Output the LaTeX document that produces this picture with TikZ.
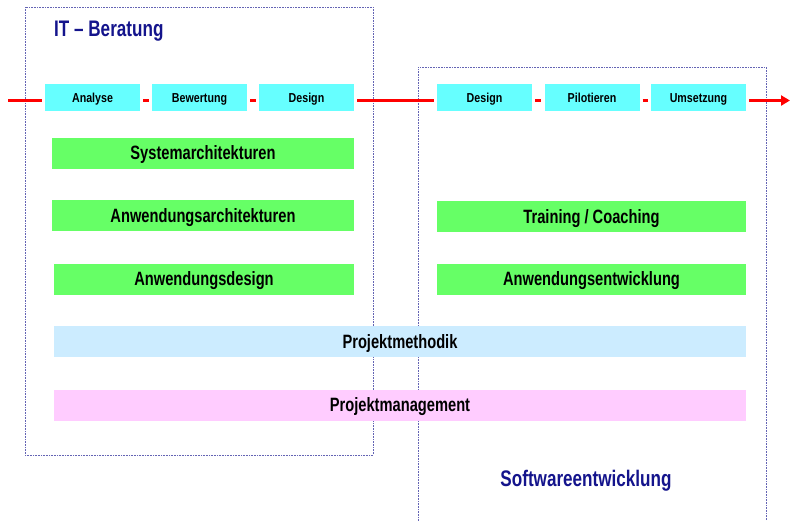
\documentclass[tikz,border=0pt]{standalone}
\usepackage{fontspec}
\setmainfont{Liberation Sans}[FakeStretch=0.82]
\newfontfamily\narrowsans{Liberation Sans}[FakeStretch=0.76]
\usetikzlibrary{arrows.meta}
\definecolor{cyanbox}{RGB}{102,255,255}
\definecolor{greenbox}{RGB}{102,255,102}
\definecolor{bluebox}{RGB}{204,236,255}
\definecolor{pinkbox}{RGB}{255,204,255}
\definecolor{frame}{RGB}{100,100,180}
\definecolor{titleblue}{RGB}{20,20,140}
\tikzset{
  stepbox/.style={fill=cyanbox, draw=none, minimum height=27pt, inner sep=0pt, text height=9.3pt, text depth=0pt, font=\bfseries\fontsize{13}{15}\selectfont},
  bar/.style={draw=none, minimum height=31pt, inner sep=0pt, text height=13.8pt, text depth=0pt, font=\narrowsans\bfseries\fontsize{19.3}{21}\selectfont},
  flow/.style={draw=red, line width=3pt, shorten <=3pt, shorten >=3pt},
  region/.style={draw=frame, line width=1pt, dash pattern=on 0.8pt off 0.8pt},
  heading/.style={text=titleblue, font=\narrowsans\bfseries\fontsize{22.5}{24}\selectfont, inner sep=0pt}
}
\begin{document}
\begin{tikzpicture}[x=1pt,y=-1pt]
\useasboundingbox (0,0) rectangle (791,520);
% frames
\draw[region] (25,7) rectangle (373,455);
\draw[region] (766,525) -- (766,67) -- (418,67) -- (418,525);
% headings
\node[heading, anchor=west] (itb) at (54,31) {IT – Beratung};
\node[heading] (swe) at (586,481) {Softwareentwicklung};
% step boxes
\node[stepbox, minimum width=95pt] (an) at (92.5,97.5) {Analyse};
\node[stepbox, minimum width=95pt] (bw) at (199.5,97.5) {Bewertung};
\node[stepbox, minimum width=95pt] (d1) at (306.5,97.5) {Design};
\node[stepbox, minimum width=95pt] (d2) at (484.5,97.5) {Design};
\node[stepbox, minimum width=95pt] (pi) at (592,97.5) {Pilotieren};
\node[stepbox, minimum width=95pt] (um) at (698.5,97.5) {Umsetzung};
% flow line
\coordinate (start) at (5,100.5);
\coordinate (end) at (793,100.5);
\draw[flow] (start) -- (start -| an.west);
\draw[flow] (an.east |- start) -- (bw.west |- start);
\draw[flow] (bw.east |- start) -- (d1.west |- start);
\draw[flow] (d1.east |- start) -- (d2.west |- start);
\draw[flow] (d2.east |- start) -- (pi.west |- start);
\draw[flow] (pi.east |- start) -- (um.west |- start);
\draw[flow, -{Triangle[length=9pt,width=10pt]}] (um.east |- start) -- (end);
% bars
\node[bar, fill=greenbox, minimum width=302pt] (sa) at (203,153) {Systemarchitekturen};
\node[bar, fill=greenbox, minimum width=302pt] (aa) at (203,215.5) {Anwendungsarchitekturen};
\node[bar, fill=greenbox, minimum width=300pt] (ad) at (204,279) {Anwendungsdesign};
\node[bar, fill=greenbox, minimum width=309pt] (tc) at (591.5,216.5) {Training / Coaching};
\node[bar, fill=greenbox, minimum width=309pt] (ae) at (591.5,279) {Anwendungsentwicklung};
\node[bar, fill=bluebox, minimum width=692pt] (pmeth) at (400,341.5) {Projektmethodik};
\node[bar, fill=pinkbox, minimum width=692pt] (pman) at (400,405) {Projektmanagement};
\end{tikzpicture}
\end{document}
